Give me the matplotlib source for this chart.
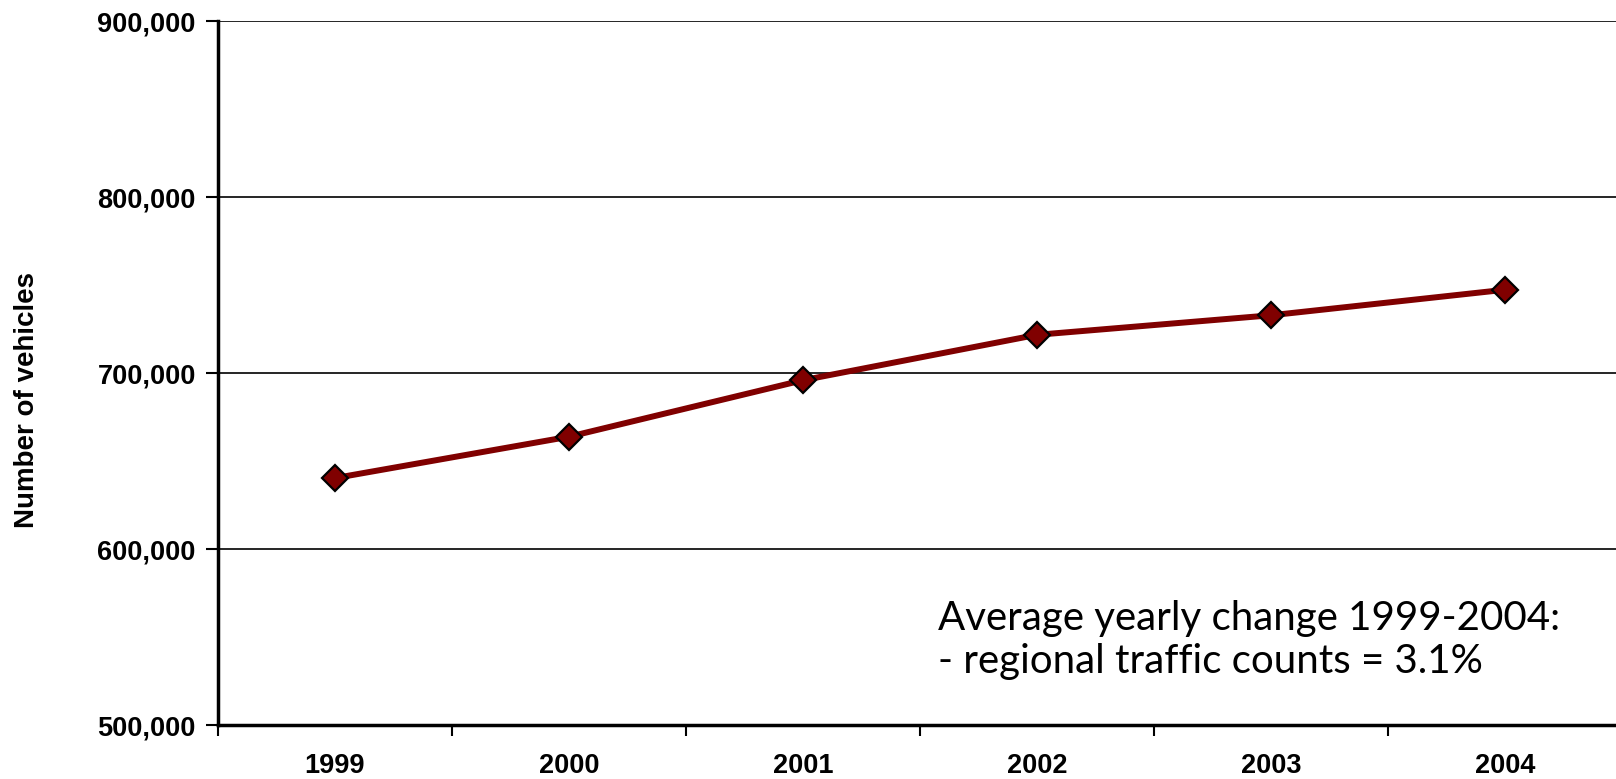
import numpy as np
import matplotlib
matplotlib.use("Agg")
import matplotlib.pyplot as plt
from matplotlib.ticker import FuncFormatter, FixedLocator

# data
years = ["1999", "2000", "2001", "2002", "2003", "2004"]
vehicles = [640300, 663800, 695900, 721700, 732800, 747300]
y_ticks = [500000, 600000, 700000, 800000, 900000]
note_text = "Average yearly change 1999-2004:\n- regional traffic counts = 3.1%"

W, H = 1616, 779
fig = plt.figure(figsize=(W / 100, H / 100), dpi=100)
ax = fig.add_axes([218 / W, 1 - 725 / H, (1622 - 218) / W, (725 - 21) / H])

x = np.arange(len(years))
ax.plot(x, vehicles, color="#800000", linewidth=4.3, marker="D", markersize=13.5,
        markerfacecolor="#800000", markeredgecolor="black", markeredgewidth=1.6,
        zorder=5, clip_on=False)

ax.set_xlim(-0.5, len(years) - 0.5)
ax.set_ylim(500000, 900000)

ax.yaxis.set_major_locator(FixedLocator(y_ticks))
ax.yaxis.set_major_formatter(FuncFormatter(lambda v, p: "{:,.0f}".format(v)))
ax.grid(axis="y", color="black", linewidth=1.2, zorder=1)

ax.xaxis.set_major_locator(FixedLocator(x))
ax.set_xticklabels(years)
ax.xaxis.set_minor_locator(FixedLocator(np.arange(-0.5, len(years), 1.0)))
ax.tick_params(axis="x", which="major", length=0, pad=20)
ax.tick_params(axis="x", which="minor", length=8, width=1.5, direction="out")
ax.tick_params(axis="y", length=9, width=1.5, direction="out", pad=7)

for lab in ax.get_xticklabels() + ax.get_yticklabels():
    lab.set_fontfamily("Liberation Sans")
    lab.set_fontweight("bold")
    lab.set_fontsize(19.5)

for s in ["top", "right"]:
    ax.spines[s].set_visible(False)
ax.spines["left"].set_linewidth(2.5)
ax.spines["bottom"].set_linewidth(2.5)

fig.text(27 / W, 1 - 400 / H, "Number of vehicles", rotation=90, ha="center", va="center",
         fontfamily="Liberation Sans", fontweight="bold", fontsize=20)

fig.text(938 / W, 1 - 640 / H, note_text, ha="left", va="center",
         fontfamily="Lato", fontsize=29, linespacing=1.2)

fig.savefig("out.png", dpi=100)
